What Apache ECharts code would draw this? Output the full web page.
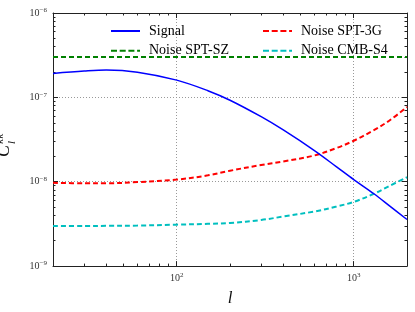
<!DOCTYPE html>
<html>
<head>
<meta charset="utf-8">
<script src="https://cdn.jsdelivr.net/npm/echarts@6/dist/echarts.min.js"></script>
<style>html,body{margin:0;padding:0;background:#fff}#c{width:415px;height:312px}</style>
</head>
<body>
<div id="c"></div>
<script>
const ells = [20, 30, 40, 60, 100, 150, 200, 300, 400, 600, 800, 1000, 1300, 1600, 2000];
const signal = [1.92e-7, 2.05e-7, 2.11e-7, 1.99e-7, 1.6e-7, 1.2e-7, 9.25e-8, 5.9e-8, 4.11e-8, 2.34e-8, 1.5e-8, 1.06e-8, 7.2e-9, 5.14e-9, 3.57e-9];
const noiseSPT3G = [9.7e-9, 9.6e-9, 9.6e-9, 9.9e-9, 1.06e-8, 1.19e-8, 1.35e-8, 1.58e-8, 1.74e-8, 2.05e-8, 2.51e-8, 3.06e-8, 4.09e-8, 5.36e-8, 7.7e-8];
const noiseCMBS4 = [2.98e-9, 2.98e-9, 3.0e-9, 3.02e-9, 3.1e-9, 3.17e-9, 3.24e-9, 3.52e-9, 3.87e-9, 4.44e-9, 5.08e-9, 5.77e-9, 7.2e-9, 8.97e-9, 1.13e-8];
const noiseSPTSZ = [3e-7, 3e-7, 3e-7, 3e-7, 3e-7, 3e-7, 3e-7, 3e-7, 3e-7, 3e-7, 3e-7, 3e-7, 3e-7, 3e-7, 3e-7];
const xMajor = [100, 1000];
const xMinor = [30, 40, 50, 60, 70, 80, 90, 200, 300, 400, 500, 600, 700, 800, 900];
const yMajor = [1e-9, 1e-8, 1e-7, 1e-6];
const yMinor = [2e-9,3e-9,4e-9,5e-9,6e-9,7e-9,8e-9,9e-9,2e-8,3e-8,4e-8,5e-8,6e-8,7e-8,8e-8,9e-8,2e-7,3e-7,4e-7,5e-7,6e-7,7e-7,8e-7,9e-7];

const pairs = arr => ells.map((l, i) => [l, arr[i]]);
const serif = 'Liberation Serif';
const expLabel = v => {
  const e = Math.round(Math.log10(v));
  return '{b|10}{s|' + String(e).replace('-', '\u2212') + '}';
};
const labelRich = {
  b: { fontSize: 10, fontFamily: serif, color: '#333', lineHeight: 12 },
  s: { fontSize: 7, fontFamily: serif, color: '#333', lineHeight: 12, verticalAlign: 'top', padding: [0, 0, 6, 0] }
};
const axisLineStyle = { color: '#222', width: 1 };
function xAx(pos, major, showLabel) {
  return {
    type: 'log', min: 20, max: 2000, position: pos, logBase: 10,
    axisLine: { show: major, lineStyle: axisLineStyle },
    axisTick: { show: true, inside: true, length: major ? 5 : 2.5, customValues: major ? xMajor : xMinor, lineStyle: { color: '#222', width: 1 } },
    splitLine: { show: major && pos === 'bottom', lineStyle: { color: '#999', type: [1, 2], width: 1 } },
    minorTick: { show: false }, minorSplitLine: { show: false },
    axisLabel: showLabel ? { show: true, customValues: xMajor, formatter: expLabel, rich: labelRich, margin: 6 } : { show: false },
    name: showLabel ? 'l' : '', nameLocation: 'middle', nameGap: 18,
    nameTextStyle: { fontFamily: serif, fontStyle: 'italic', fontSize: 17, color: '#111' }
  };
}
function yAx(pos, major, showLabel) {
  return {
    type: 'log', min: 1e-9, max: 1e-6, position: pos, logBase: 10,
    axisLine: { show: major, lineStyle: axisLineStyle },
    axisTick: { show: true, inside: true, length: major ? 5 : 2.5, customValues: major ? yMajor : yMinor, lineStyle: { color: '#222', width: 1 } },
    splitLine: { show: major && pos === 'left', lineStyle: { color: '#999', type: [1, 2], width: 1 } },
    minorTick: { show: false }, minorSplitLine: { show: false },
    axisLabel: showLabel ? { show: true, customValues: yMajor, formatter: expLabel, rich: labelRich, margin: 6 } : { show: false }
  };
}
const solidIcon = 'path://M0,0h29v2h-29z';
const dashIcon = 'path://M0,0h6v2h-6zM8.7,0h6v2h-6zM17.4,0h6v2h-6zM26.1,0h2.9v2h-2.9z';
const legendText = { fontFamily: serif, fontSize: 14, color: '#000', padding: [0, 0, 0, 4] };
const legendBase = { orient: 'horizontal', itemWidth: 29, itemHeight: 14, textStyle: legendText, selectedMode: false, padding: 0 };
const chart = echarts.init(document.getElementById('c'), null, { renderer: 'canvas' });
chart.setOption({
  animation: false,
  backgroundColor: '#fff',
  grid: { left: 53, right: 8, top: 13, bottom: 44, containLabel: false },
  xAxis: [xAx('bottom', true, true), xAx('bottom', false, false), xAx('top', true, false), xAx('top', false, false)],
  yAxis: [yAx('left', true, true), yAx('left', false, false), yAx('right', true, false), yAx('right', false, false)],
  legend: [
    Object.assign({ id: 'lg1', data: [{ name: 'Signal', icon: solidIcon }], left: 111, top: 24 }, legendBase),
    Object.assign({ id: 'lg2', data: [{ name: 'Noise SPT-3G', icon: dashIcon }], left: 263, top: 24 }, legendBase),
    Object.assign({ id: 'lg3', data: [{ name: 'Noise SPT-SZ', icon: dashIcon }], left: 111, top: 43.7 }, legendBase),
    Object.assign({ id: 'lg4', data: [{ name: 'Noise CMB-S4', icon: dashIcon }], left: 263, top: 43.7 }, legendBase)
  ],
  graphic: [{
    type: 'group', x: 13, y: 157, rotation: Math.PI / 2,
    children: [
      { type: 'text', x: 0, y: 0, style: { text: 'C', font: 'italic 18px "Liberation Serif"', fill: '#111', textVerticalAlign: 'bottom' } },
      { type: 'text', x: 13, y: -7, style: { text: 'κκ', font: 'italic 11px "Liberation Serif"', fill: '#111', textVerticalAlign: 'bottom' } },
      { type: 'text', x: 13, y: 5, style: { text: 'l', font: 'italic 11px "Liberation Serif"', fill: '#111', textVerticalAlign: 'bottom' } }
    ]
  }],
  series: [
    { name: 'Signal', type: 'line', data: pairs(signal), showSymbol: false, symbol: 'none', smooth: 0.35, lineStyle: { color: '#0000ff', width: 1.5 }, itemStyle: { color: '#0000ff' }, z: 5 },
    { name: 'Noise SPT-3G', type: 'line', data: pairs(noiseSPT3G), showSymbol: false, symbol: 'none', smooth: 0.35, lineStyle: { color: '#ff0000', width: 2, type: [5, 3] }, itemStyle: { color: '#ff0000' } },
    { name: 'Noise SPT-SZ', type: 'line', data: pairs(noiseSPTSZ), showSymbol: false, symbol: 'none', lineStyle: { color: '#008000', width: 2, type: [5, 3] }, itemStyle: { color: '#008000' } },
    { name: 'Noise CMB-S4', type: 'line', data: pairs(noiseCMBS4), showSymbol: false, symbol: 'none', smooth: 0.35, lineStyle: { color: '#00bfbf', width: 2, type: [5, 3] }, itemStyle: { color: '#00bfbf' } }
  ]
});
</script>
</body>
</html>
